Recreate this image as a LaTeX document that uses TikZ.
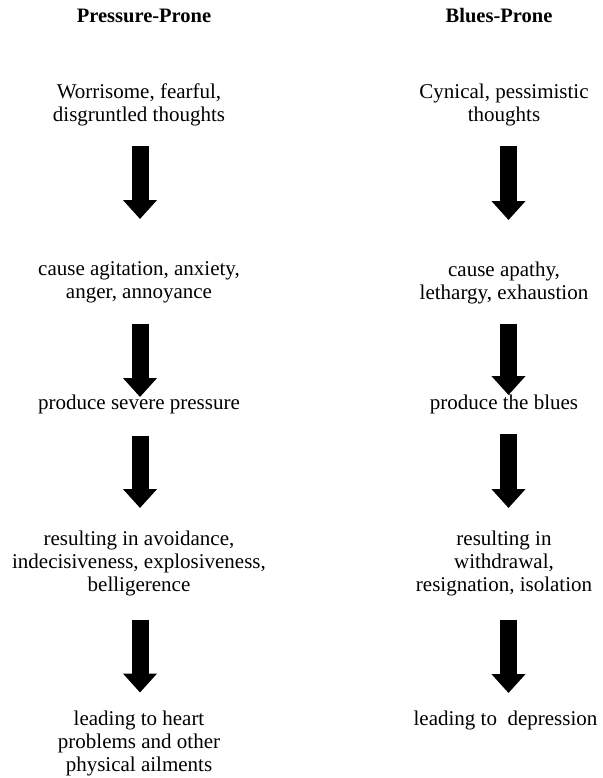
\documentclass[tikz,border=0pt]{standalone}
\usepackage{fontspec}
\setmainfont{Liberation Serif}
\usetikzlibrary{arrows.meta}
\begin{document}
\begin{tikzpicture}[x=1pt,y=-1pt,
  txt/.style={inner sep=0pt, align=center, anchor=north, font=\fontsize{21}{23}\selectfont},
  ttl/.style={inner sep=0pt, anchor=base, font=\fontsize{20.5}{23}\selectfont\bfseries},
  bigarrow/.style={line width=17pt, black, -{Triangle[width=33pt,length=19pt]}}]
\useasboundingbox (0,0) rectangle (602,778);
% titles
\node[ttl] (PT) at (144,23) {Pressure-Prone};
\node[ttl] (BT) at (499,23) {Blues-Prone};
% left column
\node[txt] (L1) at (139,83.7) {Worrisome, fearful,\\disgruntled thoughts};
\node[txt] (L2) at (139,261.7) {cause agitation, anxiety,\\anger, annoyance};
\node[txt] (L3) at (139,394.7) {produce severe pressure};
\node[txt] (L4) at (139,530.7) {resulting in avoidance,\\indecisiveness, explosiveness,\\belligerence};
\node[txt] (L5) at (139,710.7) {leading to heart\\problems and other\\physical ailments};
% right column
\node[txt] (R1) at (504,83.7) {Cynical, pessimistic\\thoughts};
\node[txt] (R2) at (504,261.7) {cause apathy,\\lethargy, exhaustion};
\node[txt] (R3) at (504,394.7) {produce the blues};
\node[txt] (R4) at (504,530.7) {resulting in\\withdrawal,\\resignation, isolation};
\node[txt] (R5) at (505.5,710.7) {leading to\ \ depression};
% arrows left
\draw[bigarrow, shorten <=19.4pt, shorten >=42.7pt] ([xshift=1pt]L1.south) -- ([xshift=1pt]L1.south |- L2.north);
\draw[bigarrow, shorten <=20.4pt, shorten >=-2.3pt] ([xshift=1pt]L2.south) -- ([xshift=1pt]L2.south |- L3.north);
\draw[bigarrow, shorten <=21.4pt, shorten >=22.7pt] ([xshift=1pt]L3.south) -- ([xshift=1pt]L3.south |- L4.north);
\draw[bigarrow, shorten <=23.4pt, shorten >=18.2pt] ([xshift=1pt]L4.south) -- ([xshift=1pt]L4.south |- L5.north);
% arrows right
\draw[bigarrow, shorten <=19.4pt, shorten >=41.7pt] ([xshift=4.5pt]R1.south) -- ([xshift=4.5pt]R1.south |- R2.north);
\draw[bigarrow, shorten <=19.4pt, shorten >=-0.3pt] ([xshift=4.5pt]R2.south) -- ([xshift=4.5pt]R2.south |- R3.north);
\draw[bigarrow, shorten <=19.4pt, shorten >=22.7pt] ([xshift=4.5pt]R3.south) -- ([xshift=4.5pt]R3.south |- R4.north);
\draw[bigarrow, shorten <=23.4pt, shorten >=17.7pt] ([xshift=4.5pt]R4.south) -- ([xshift=4.5pt]R4.south |- R5.north);
\end{tikzpicture}
\end{document}
